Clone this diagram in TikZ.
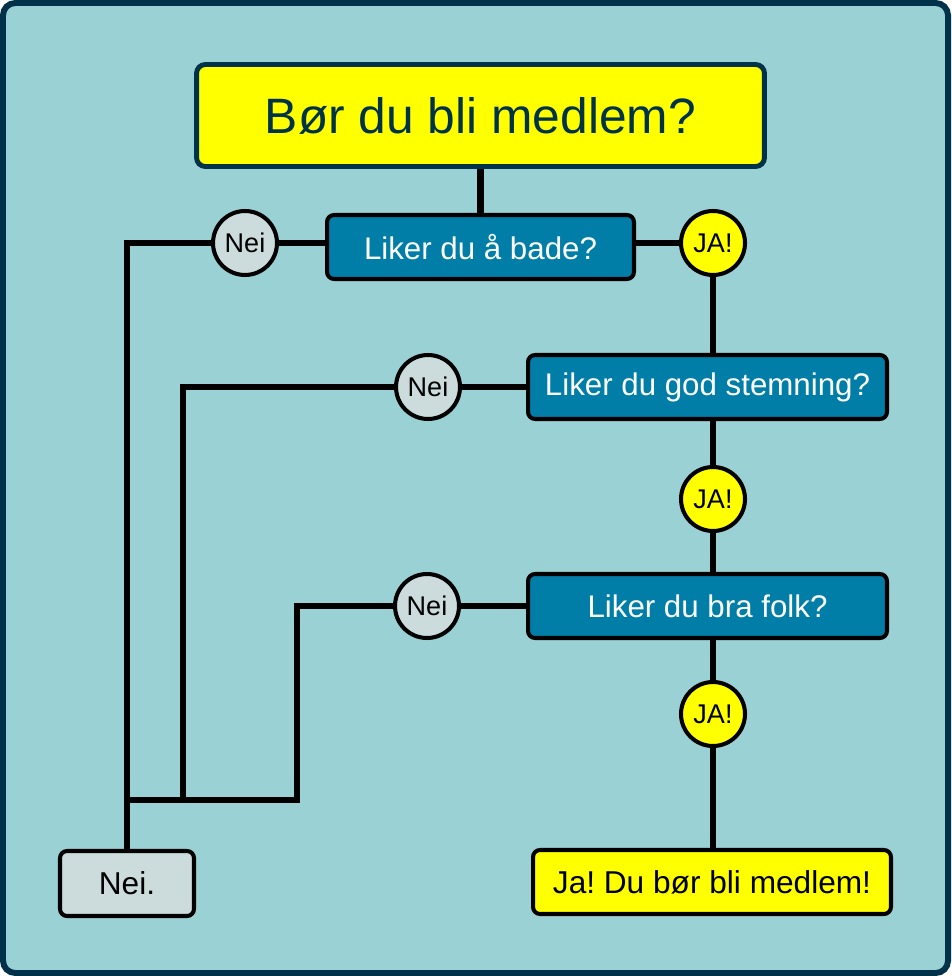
\documentclass[tikz,border=0pt]{standalone}
\usepackage{fontspec}
\setmainfont{Liberation Sans}
\frenchspacing
\usepackage{tikz}
\usetikzlibrary{positioning,calc}
\definecolor{bgteal}{RGB}{154,209,212}
\definecolor{framenavy}{RGB}{0,51,73}
\definecolor{qblue}{RGB}{0,126,167}
\definecolor{neigrey}{RGB}{204,219,220}
\definecolor{jayellow}{RGB}{255,255,0}
\tikzstyle{link} = [line width=3.5pt, draw=black]
\tikzstyle{qbox} = [rectangle, rounded corners=4pt, draw=black, line width=2.3pt, fill=qblue, text=white, minimum width=7.18cm, minimum height=1.28cm, inner sep=0pt, font=\fontsize{17.8}{20}\selectfont]
\tikzstyle{answer} = [circle, draw=black, line width=2.3pt, minimum size=1.28cm, inner sep=0pt, font=\fontsize{15.4}{17}\selectfont]
\tikzstyle{neicircle} = [answer, fill=neigrey]
\tikzstyle{jacircle} = [answer, fill=jayellow]

\begin{document}
\begin{tikzpicture}[x=0.02cm, y=-0.02cm]
\useasboundingbox (0,0) rectangle (951,976);
% Frame
\draw[line width=3.4pt, draw=framenavy, fill=bgteal, rounded corners=7pt] (3,3) rectangle (948,973);

% Title
\node[rectangle, rounded corners=5pt, draw=framenavy, line width=2.8pt, fill=jayellow, text=framenavy, minimum width=11.36cm, minimum height=2.04cm, inner sep=0pt, font=\fontsize{28.3}{32}\selectfont] (title) at (480.5,115.5) {Bør du bli medlem?};

% Questions
\node[qbox, minimum width=6.14cm] (q1) at (480.5,247) {Liker du å bade?};
\node[qbox] (q2) at (707.5,387) {Liker du god stemning?};
\node[qbox] (q3) at (707.5,606) {Liker du bra folk?};

% Answers
\node[neicircle] (nei1) at (245,243) {Nei};
\node[jacircle] (ja1) at (713,243) {JA!};
\node[neicircle] (nei2) at (428,387) {Nei};
\node[jacircle] (ja2) at (713,499) {JA!};
\node[neicircle] (nei3) at (427,606) {Nei};
\node[jacircle] (ja3) at (713,714) {JA!};

% Results
\node[qbox, fill=neigrey, text=black, minimum width=2.68cm, minimum height=1.3cm, font=\fontsize{18}{20}\selectfont] (no) at (127,883.5) {Nei.};
\node[qbox, fill=jayellow, text=black, minimum width=7.16cm, font=\fontsize{18}{20}\selectfont] (yes) at (712,882) {Ja! Du bør bli medlem!};

% Junctions
\coordinate (join1) at (127,800);
\coordinate (join2) at (183,800);
\coordinate (join3) at (297,800);

% Connectors
\draw[link] (title) -- (q1);
\draw[link] (q1.west |- nei1) -- (nei1);
\draw[link] (nei1) -| (no);
\draw[link] (q1.east |- ja1) -- (ja1);
\draw[link] (ja1) -- (ja1 |- q2.north);
\draw[link] (q2.west |- nei2) -- (nei2);
\draw[link] (nei2) -| (join2);
\draw[link] (ja1 |- q2.south) -- (ja2);
\draw[link] (ja2) -- (ja2 |- q3.north);
\draw[link] (q3.west |- nei3) -- (nei3);
\draw[link] (nei3) -| (join3) -- (join1);
\draw[link] (ja3 |- q3.south) -- (ja3);
\draw[link] (ja3) -- (ja3 |- yes.north);
\end{tikzpicture}
\end{document}
